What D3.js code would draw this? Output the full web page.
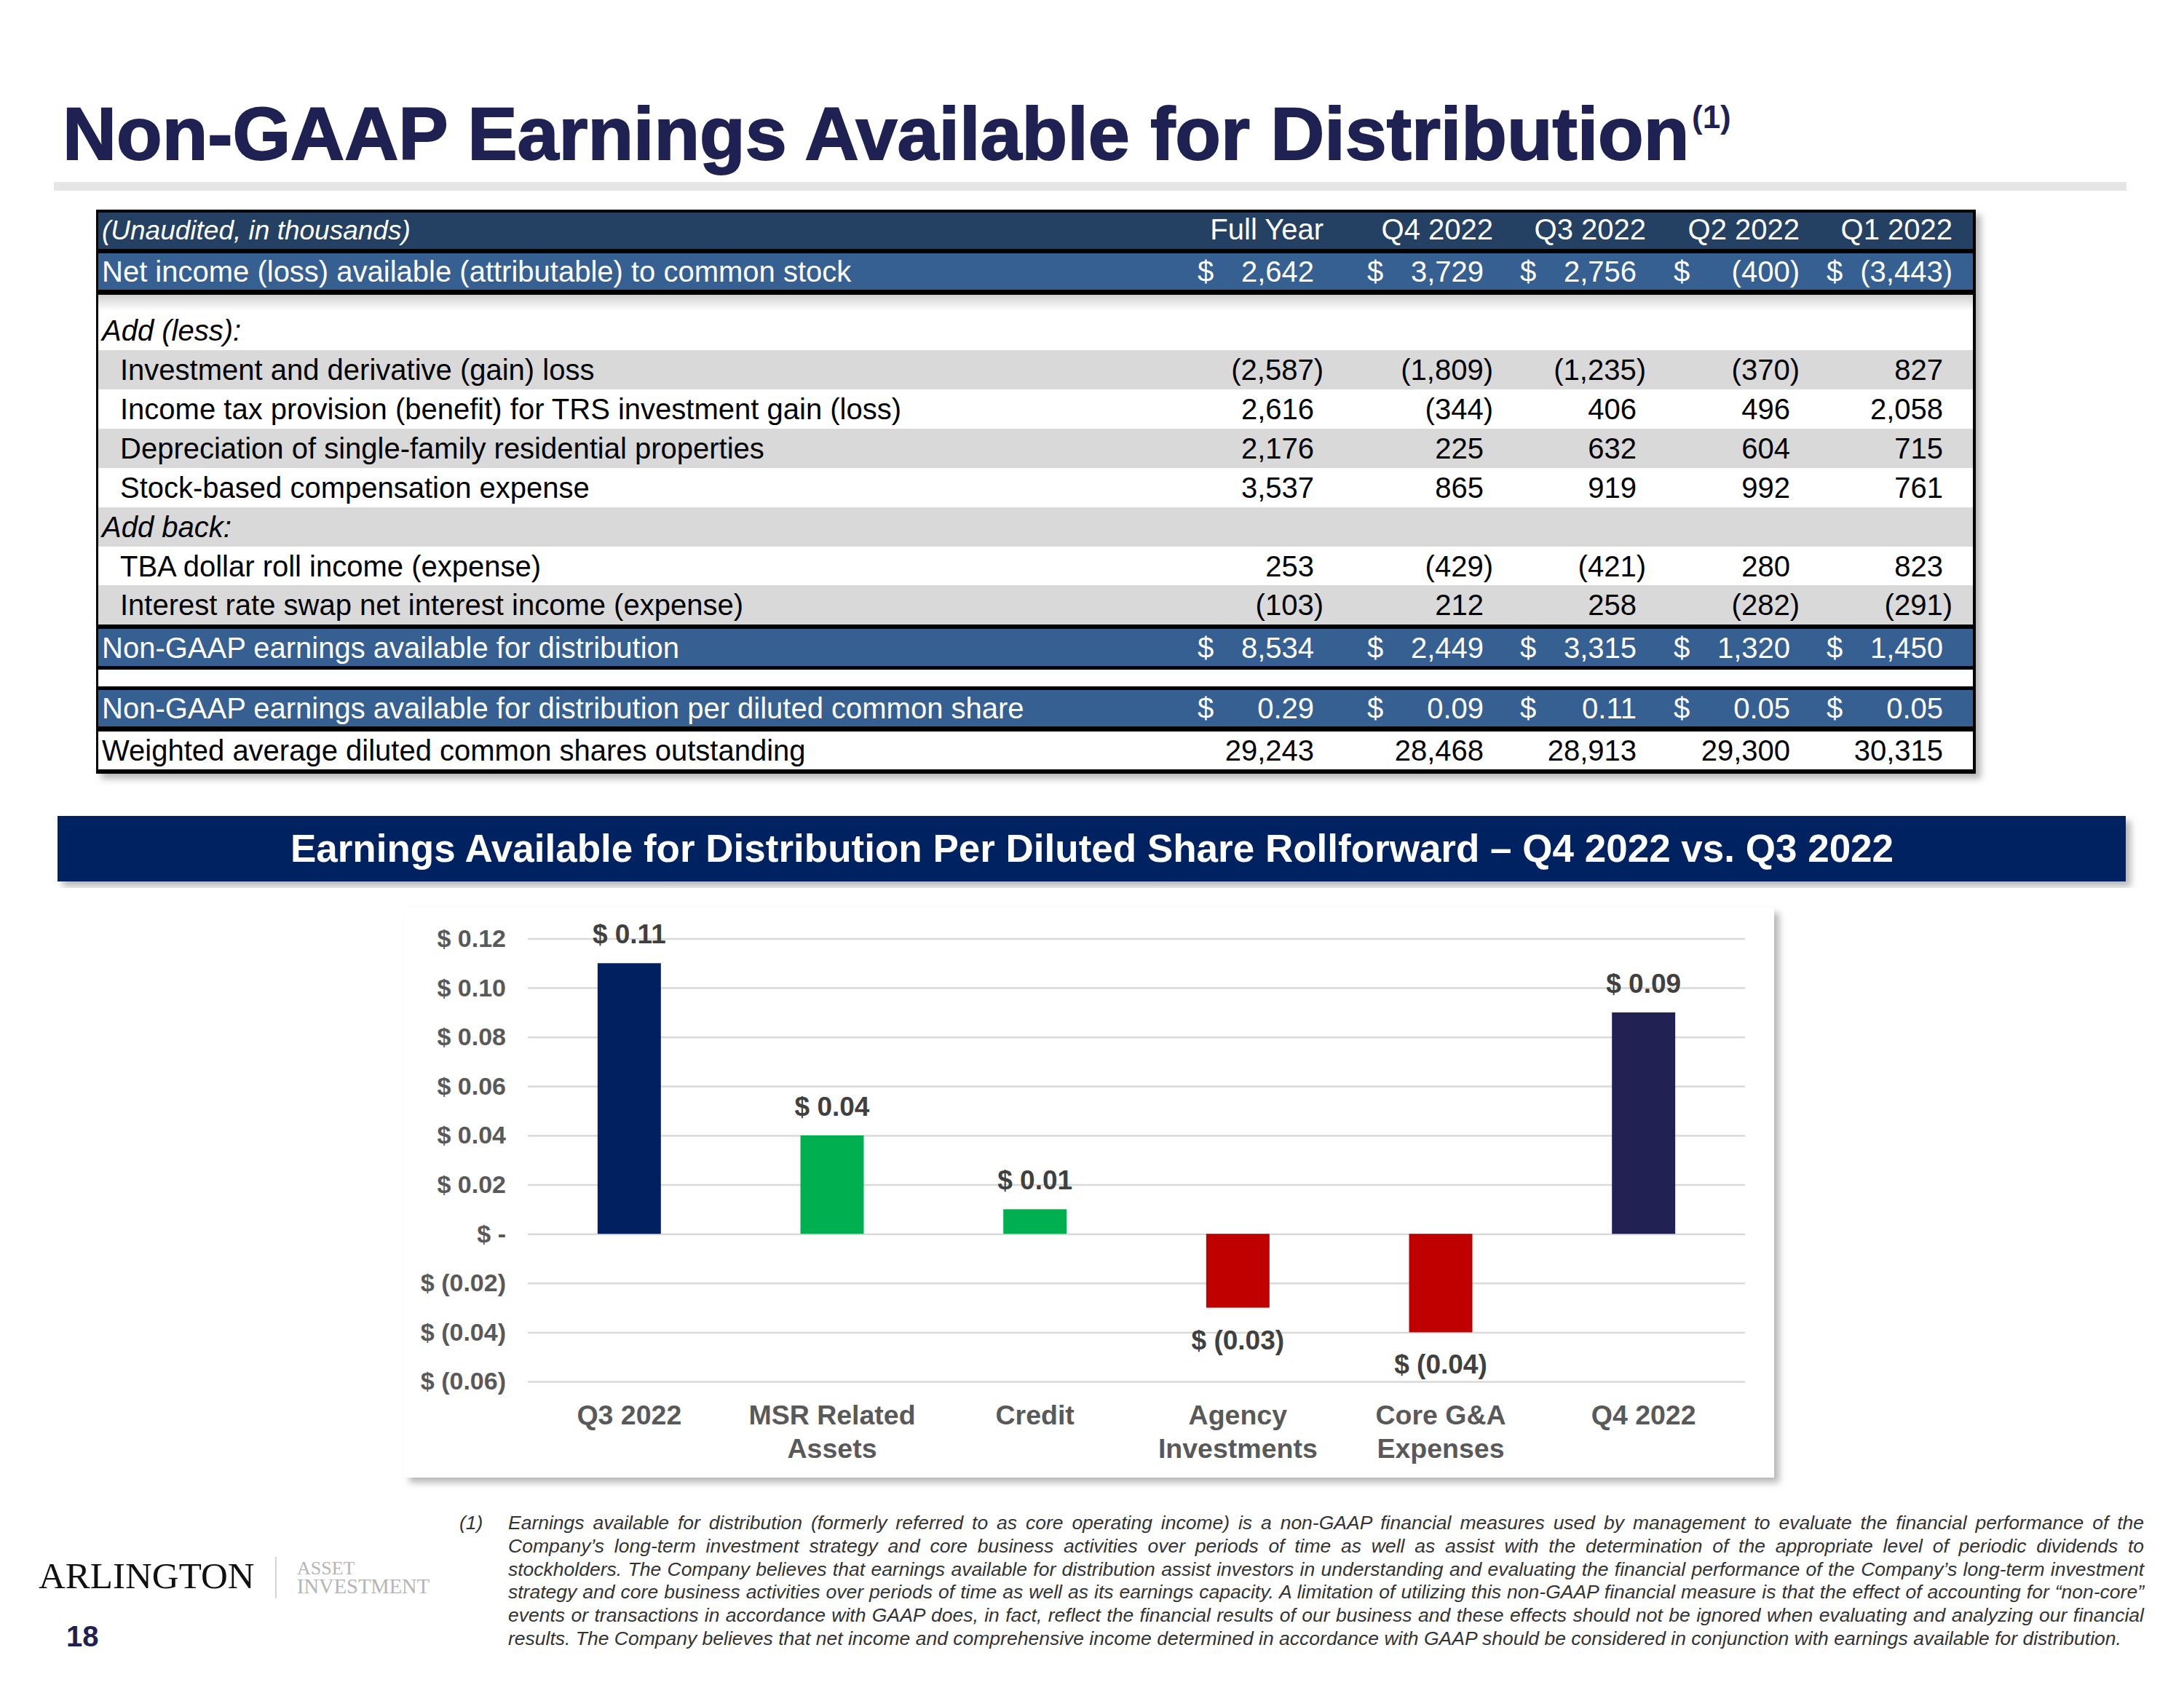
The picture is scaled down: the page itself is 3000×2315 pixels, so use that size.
<!DOCTYPE html>
<html><head><meta charset="utf-8">
<script src="https://cdn.jsdelivr.net/npm/d3@7"></script>
<style>html,body{margin:0;padding:0;background:#fff;} svg{display:block;font-family:"Liberation Sans",Arial,sans-serif;}</style>
</head><body><svg id="c" width="3000" height="2315"></svg>
<script>
// ---------- DATA ----------
const titleText = "Non-GAAP Earnings Available for Distribution";
const tableColumns = ["Full Year","Q4 2022","Q3 2022","Q2 2022","Q1 2022"];
const netIncome = [2642, 3729, 2756, -400, -3443];
const investmentGainLoss = [-2587, -1809, -1235, -370, 827];
const incomeTaxProvision = [2616, -344, 406, 496, 2058];
const depreciation = [2176, 225, 632, 604, 715];
const stockComp = [3537, 865, 919, 992, 761];
const tbaDollarRoll = [253, -429, -421, 280, 823];
const swapInterest = [-103, 212, 258, -282, -291];
const nonGaapEarnings = [8534, 2449, 3315, 1320, 1450];
const perDilutedShare = [0.29, 0.09, 0.11, 0.05, 0.05];
const weightedShares = [29243, 28468, 28913, 29300, 30315];

const chartTitle = "Earnings Available for Distribution Per Diluted Share Rollforward \u2013 Q4 2022 vs. Q3 2022";
const chartCategories = ["Q3 2022", "MSR Related Assets", "Credit", "Agency Investments", "Core G&A Expenses", "Q4 2022"];
const chartCategoryLines = [["Q3 2022"], ["MSR Related","Assets"], ["Credit"], ["Agency","Investments"], ["Core G&A","Expenses"], ["Q4 2022"]];
const chartValues = [0.11, 0.04, 0.01, -0.03, -0.04, 0.09];
const chartValueLabels = ["$ 0.11", "$ 0.04", "$ 0.01", "$ (0.03)", "$ (0.04)", "$ 0.09"];
const chartKinds = ["total", "up", "up", "down", "down", "total2"];
const yTickValues = [0.12, 0.10, 0.08, 0.06, 0.04, 0.02, 0, -0.02, -0.04, -0.06];
const yTickLabels = ["$ 0.12", "$ 0.10", "$ 0.08", "$ 0.06", "$ 0.04", "$ 0.02", "$ -", "$ (0.02)", "$ (0.04)", "$ (0.06)"];

const footnoteLines = [
 "Earnings available for distribution (formerly referred to as core operating income) is a non-GAAP financial measures used by management to evaluate the financial performance of the",
 "Company\u2019s long-term investment strategy and core business activities over periods of time as well as assist with the determination of the appropriate level of periodic dividends to",
 "stockholders. The Company believes that earnings available for distribution assist investors in understanding and evaluating the financial performance of the Company\u2019s long-term investment",
 "strategy and core business activities over periods of time as well as its earnings capacity. A limitation of utilizing this non-GAAP financial measure is that the effect of accounting for \u201cnon-core\u201d",
 "events or transactions in accordance with GAAP does, in fact, reflect the financial results of our business and these effects should not be ignored when evaluating and analyzing our financial",
 "results. The Company believes that net income and comprehensive income determined in accordance with GAAP should be considered in conjunction with earnings available for distribution."
];

// ---------- SETUP ----------
const svg = d3.select("#c");
const defs = svg.append("defs");
const sh = defs.append("filter").attr("id","shadow").attr("x","-5%").attr("y","-5%").attr("width","110%").attr("height","115%");
sh.append("feDropShadow").attr("dx",7).attr("dy",7).attr("stdDeviation",5).attr("flood-color","#888").attr("flood-opacity",0.6);
const gapGrad = defs.append("linearGradient").attr("id","gapgrad").attr("x1",0).attr("y1",0).attr("x2",0).attr("y2",1);
gapGrad.append("stop").attr("offset","0%").attr("stop-color","#d0d0d0");
gapGrad.append("stop").attr("offset","100%").attr("stop-color","#ffffff");

// ---------- TITLE ----------
svg.append("text").attr("x",86).attr("y",219).attr("font-size",102.5).attr("font-weight","bold")
  .attr("fill","#1f2152").attr("stroke","#1f2152").attr("stroke-width",2).text(titleText);
svg.append("text").attr("x",2324).attr("y",176).attr("font-size",44).attr("font-weight","bold").attr("fill","#1f2152").text("(1)");
svg.append("rect").attr("x",74).attr("y",250).attr("width",2847).attr("height",12).attr("fill","#e6e6e6");

// ---------- TABLE ----------
const colX = d3.scaleOrdinal().domain(tableColumns).range([1818, 2051, 2261, 2472, 2682]);
const fmtInt = d3.format(",");
function fmtNum(v, dec){ const s = dec ? d3.format(",.2f")(Math.abs(v)) : fmtInt(Math.abs(v)); return v < 0 ? "(" + s + ")" : s; }

const tableRows = [
 {type:"header", h:54},
 {type:"line", h:6},
 {type:"data", label:"Net income (loss) available (attributable) to common stock", values:netIncome, bg:"blue", dollar:true, h:50},
 {type:"line", h:7},
 {type:"gap", h:22, grad:true},
 {type:"section", label:"Add (less):", bg:"white", h:54},
 {type:"data", label:"Investment and derivative (gain) loss", values:investmentGainLoss, bg:"gray", indent:true, h:54},
 {type:"data", label:"Income tax provision (benefit) for TRS investment gain (loss)", values:incomeTaxProvision, bg:"white", indent:true, h:54},
 {type:"data", label:"Depreciation of single-family residential properties", values:depreciation, bg:"gray", indent:true, h:54},
 {type:"data", label:"Stock-based compensation expense", values:stockComp, bg:"white", indent:true, h:54},
 {type:"section", label:"Add back:", bg:"gray", h:54},
 {type:"data", label:"TBA dollar roll income (expense)", values:tbaDollarRoll, bg:"white", indent:true, h:53},
 {type:"data", label:"Interest rate swap net interest income (expense)", values:swapInterest, bg:"gray", indent:true, h:54},
 {type:"line", h:6},
 {type:"data", label:"Non-GAAP earnings available for distribution", values:nonGaapEarnings, bg:"blue", dollar:true, h:51},
 {type:"line", h:5},
 {type:"gap", h:23},
 {type:"line", h:5},
 {type:"data", label:"Non-GAAP earnings available for distribution per diluted common share", values:perDilutedShare, bg:"blue", dollar:true, dec:true, h:50},
 {type:"line", h:7},
 {type:"data", label:"Weighted average diluted common shares outstanding", values:weightedShares, bg:"white", h:52},
 {type:"line", h:6}
];
const tLeft = 132, tRight = 2714, tTop = 288;
const bgColors = {header:"#244062", blue:"#366092", gray:"#d9d9d9", white:"#ffffff"};
const tbl = svg.append("g");
let totalH = d3.sum(tableRows, r=>r.h);
tbl.append("rect").attr("x",tLeft).attr("y",tTop).attr("width",tRight-tLeft).attr("height",totalH).attr("fill","#fff").attr("filter","url(#shadow)");
let yy = tTop;
tableRows.forEach(r => {
  const top = yy; yy += r.h;
  if (r.type === "line") { tbl.append("rect").attr("x",tLeft).attr("y",top).attr("width",tRight-tLeft).attr("height",r.h).attr("fill","#000"); return; }
  if (r.type === "gap") {
    tbl.append("rect").attr("x",tLeft).attr("y",top).attr("width",tRight-tLeft).attr("height",r.h).attr("fill", r.grad ? "url(#gapgrad)" : "#fff");
    return;
  }
  const base = top + r.h/2 + 14;
  if (r.type === "header") {
    tbl.append("rect").attr("x",tLeft).attr("y",top).attr("width",tRight-tLeft).attr("height",r.h).attr("fill",bgColors.header);
    tbl.append("rect").attr("x",tLeft).attr("y",top).attr("width",tRight-tLeft).attr("height",4).attr("fill","#000");
    tbl.append("text").attr("x",140).attr("y",base).attr("font-size",37).attr("font-style","italic").attr("fill","#fff").text("(Unaudited, in thousands)");
    tbl.selectAll(null).data(tableColumns).join("text").attr("x",d=>colX(d)).attr("y",base).attr("text-anchor","end").attr("font-size",40).attr("fill","#fff").text(d=>d);
    return;
  }
  tbl.append("rect").attr("x",tLeft).attr("y",top).attr("width",tRight-tLeft).attr("height",r.h).attr("fill",bgColors[r.bg]);
  const fg = r.bg === "blue" ? "#fff" : "#000";
  tbl.append("text").attr("x", r.indent ? 165 : 140).attr("y",base).attr("font-size",40).attr("fill",fg)
    .attr("font-style", r.type === "section" ? "italic" : null).text(r.label);
  if (r.type === "data") {
    tbl.selectAll(null).data(r.values).join("text")
      .attr("x",(d,i)=> colX(tableColumns[i]) - (d < 0 ? 0 : 13)).attr("y",base)
      .attr("text-anchor","end").attr("font-size",40).attr("fill",fg).text(d=>fmtNum(d, r.dec));
    if (r.dollar) {
      tbl.selectAll(null).data(r.values).join("text")
        .attr("x",(d,i)=> colX(tableColumns[i]) - 173).attr("y",base)
        .attr("font-size",40).attr("fill",fg).text("$");
    }
  }
});
tbl.append("rect").attr("x",tLeft).attr("y",tTop).attr("width",3).attr("height",totalH).attr("fill","#000");
tbl.append("rect").attr("x",tRight-4).attr("y",tTop).attr("width",4).attr("height",totalH).attr("fill","#000");

// ---------- BANNER ----------
svg.append("rect").attr("x",79).attr("y",1121).attr("width",2841).attr("height",90).attr("fill","#002060").attr("filter","url(#shadow)");
svg.append("text").attr("x",1500).attr("y",1184).attr("text-anchor","middle").attr("font-size",53).attr("font-weight","bold").attr("fill","#fff").text(chartTitle);

// ---------- CHART ----------
svg.append("rect").attr("x",555).attr("y",1247).attr("width",1882).attr("height",783).attr("fill","#fff").attr("filter","url(#shadow)");
const x = d3.scaleBand().domain(chartCategories).range([725, 2397]).paddingInner(0.688).paddingOuter(0.344);
const y = d3.scaleLinear().domain([-0.06, 0.12]).range([1898, 1289.5]);
const yAxis = svg.append("g").attr("transform","translate(725,0)")
  .call(d3.axisLeft(y).tickValues(yTickValues).tickFormat((d,i)=>yTickLabels[i]).tickSize(-1672).tickPadding(30));
yAxis.select(".domain").remove();
yAxis.selectAll(".tick line").attr("stroke","#d9d9d9").attr("stroke-width",2.5);
yAxis.selectAll(".tick text").attr("font-size",34).attr("font-weight","bold").attr("fill","#595959")
  .attr("font-family",'"Liberation Sans",Arial,sans-serif');

const barColor = {total:"#002060", up:"#00b050", down:"#c00000", total2:"#212253"};
svg.append("g").selectAll("rect").data(chartValues).join("rect")
  .attr("x",(d,i)=>x(chartCategories[i])).attr("width",x.bandwidth())
  .attr("y",d=>y(Math.max(0,d))).attr("height",d=>Math.abs(y(d)-y(0)))
  .attr("fill",(d,i)=>barColor[chartKinds[i]]);
svg.append("g").selectAll("text").data(chartValues).join("text")
  .attr("x",(d,i)=>x(chartCategories[i]) + x.bandwidth()/2)
  .attr("y",d=> d >= 0 ? y(d) - 27 : y(d) + 57)
  .attr("text-anchor","middle").attr("font-size",37).attr("font-weight","bold").attr("fill","#404040")
  .text((d,i)=>chartValueLabels[i]);
const xl = svg.append("g").selectAll("text").data(chartCategoryLines).join("text")
  .attr("x",(d,i)=>x(chartCategories[i]) + x.bandwidth()/2).attr("y",1957)
  .attr("text-anchor","middle").attr("font-size",37.5).attr("font-weight","bold").attr("fill","#595959");
xl.each(function(lines,i){
  const t = d3.select(this), cx = x(chartCategories[i]) + x.bandwidth()/2;
  lines.forEach((ln,j)=> t.append("tspan").attr("x",cx).attr("dy", j===0 ? 0 : 46).text(ln));
});

// ---------- FOOTNOTE ----------
const fn = svg.append("g").attr("font-size",26.5).attr("font-style","italic").attr("fill","#333");
fn.append("text").attr("x",631).attr("y",2101).text("(1)");
footnoteLines.forEach((ln,i)=>{
  const t = fn.append("text").attr("x",698).attr("y",2101 + i*31.8).text(ln);
  if (i < footnoteLines.length - 1) {
    const w = t.node().getComputedTextLength();
    const n = (ln.match(/ /g)||[]).length;
    t.attr("word-spacing", (2247 - w)/n);
  }
});

// ---------- LOGO / PAGE ----------
const serif = '"Liberation Serif","DejaVu Serif",serif';
svg.append("text").attr("x",53).attr("y",2182).attr("font-size",51).attr("font-family",serif).attr("fill","#111").text("ARLINGTON");
svg.append("rect").attr("x",378).attr("y",2139).attr("width",2).attr("height",57).attr("fill","#d6d6d6");
svg.append("text").attr("x",408).attr("y",2163).attr("font-size",26).attr("font-family",serif).attr("fill","#b5b5b5").text("ASSET");
svg.append("text").attr("x",408).attr("y",2189).attr("font-size",28.5).attr("font-family",serif).attr("fill","#b5b5b5").text("INVESTMENT");
svg.append("text").attr("x",91).attr("y",2262).attr("font-size",40).attr("font-weight","bold").attr("fill","#1f2152").text("18");
</script></body></html>
